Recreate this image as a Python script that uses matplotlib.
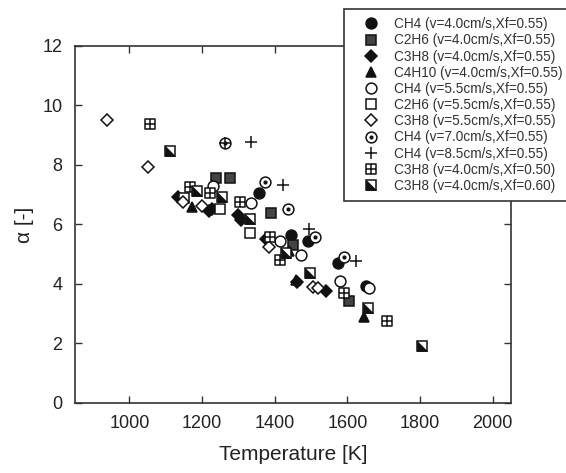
import matplotlib
matplotlib.use('Agg')
import matplotlib.pyplot as plt
from matplotlib.path import Path
from matplotlib.legend_handler import HandlerTuple

plt.rcParams['font.family'] = ['Liberation Sans', 'DejaVu Sans']

# data: (temperature [K], alpha [-])
ch4_40_T = [1357, 1445, 1491, 1573, 1651]
ch4_40_a = [7.07, 5.64, 5.46, 4.72, 3.92]
c2h6_40_T = [1239, 1278, 1390, 1449, 1605]
c2h6_40_a = [7.56, 7.56, 6.40, 5.30, 3.44]
c3h8_40_T = [1133, 1219, 1228, 1298, 1306, 1375, 1462, 1540]
c3h8_40_a = [6.91, 6.44, 6.52, 6.31, 6.15, 5.50, 4.07, 3.75]
c4h10_40_T = [1171, 1440, 1458, 1645]
c4h10_40_a = [6.58, 5.10, 4.13, 2.88]
ch4_55_T = [1230, 1335, 1414, 1471, 1579, 1660]
ch4_55_a = [7.29, 6.71, 5.46, 4.96, 4.11, 3.85]
c2h6_55_T = [1150, 1250, 1331]
c2h6_55_a = [6.89, 6.53, 5.72]
c3h8_55_T = [939, 1052, 1148, 1199, 1383, 1505, 1518]
c3h8_55_a = [9.51, 7.94, 6.75, 6.62, 5.23, 3.89, 3.85]
ch4_70_T = [1264, 1372, 1436, 1511, 1590]
ch4_70_a = [8.75, 7.43, 6.51, 5.57, 4.92]
ch4_85_T = [1264, 1335, 1423, 1495, 1623]
ch4_85_a = [8.75, 8.78, 7.34, 5.84, 4.76]
c3h8_x50_T = [1056, 1168, 1221, 1305, 1388, 1414, 1592, 1709]
c3h8_x50_a = [9.38, 7.27, 7.07, 6.76, 5.57, 4.80, 3.69, 2.75]
c3h8_x60_T = [1111, 1186, 1256, 1331, 1430, 1498, 1656, 1806]
c3h8_x60_a = [8.46, 7.14, 6.93, 6.17, 5.03, 4.38, 3.19, 1.92]

labels = [
    'CH4 (v=4.0cm/s,Xf=0.55)',
    'C2H6 (v=4.0cm/s,Xf=0.55)',
    'C3H8 (v=4.0cm/s,Xf=0.55)',
    'C4H10 (v=4.0cm/s,Xf=0.55)',
    'CH4 (v=5.5cm/s,Xf=0.55)',
    'C2H6 (v=5.5cm/s,Xf=0.55)',
    'C3H8 (v=5.5cm/s,Xf=0.55)',
    'CH4 (v=7.0cm/s,Xf=0.55)',
    'CH4 (v=8.5cm/s,Xf=0.55)',
    'C3H8 (v=4.0cm/s,Xf=0.50)',
    'C3H8 (v=4.0cm/s,Xf=0.60)',
]

# custom markers
crossed_sq = Path([(-1, -1), (1, -1), (1, 1), (-1, 1), (-1, -1),
                   (0, -1), (0, 1), (-1, 0), (1, 0)],
                  [Path.MOVETO, Path.LINETO, Path.LINETO, Path.LINETO, Path.CLOSEPOLY,
                   Path.MOVETO, Path.LINETO, Path.MOVETO, Path.LINETO])
half_tri = Path([(-1, 1), (-1, -1), (1, -1), (-1, 1)],
                [Path.MOVETO, Path.LINETO, Path.LINETO, Path.CLOSEPOLY])

k = '#111111'
fig = plt.figure(figsize=(5.66, 4.73), dpi=100)
ax = fig.add_axes([0.1325, 0.148, 0.77, 0.755])

ms = 7.8
mew = 1.1
h = []
h.append(ax.plot(ch4_40_T, ch4_40_a, 'o', ms=ms, mfc=k, mec=k, mew=mew)[0])
h.append(ax.plot(c2h6_40_T, c2h6_40_a, 's', ms=ms, mfc='#444444', mec=k, mew=mew)[0])
h.append(ax.plot(c3h8_40_T, c3h8_40_a, 'D', ms=ms - 1.5, mfc=k, mec=k, mew=mew)[0])
h.append(ax.plot(c4h10_40_T, c4h10_40_a, '^', ms=ms - 0.5, mfc=k, mec=k, mew=mew)[0])
h.append(ax.plot(ch4_55_T, ch4_55_a, 'o', ms=ms, mfc='white', mec=k, mew=mew)[0])
h.append(ax.plot(c2h6_55_T, c2h6_55_a, 's', ms=ms, mfc='white', mec=k, mew=mew)[0])
h.append(ax.plot(c3h8_55_T, c3h8_55_a, 'D', ms=ms - 1.5, mfc='white', mec=k, mew=mew)[0])
o70 = ax.plot(ch4_70_T, ch4_70_a, 'o', ms=ms, mfc='white', mec=k, mew=mew)[0]
d70 = ax.plot(ch4_70_T, ch4_70_a, 'o', ms=2, mfc=k, mec=k)[0]
h.append((o70, d70))
h.append(ax.plot(ch4_85_T, ch4_85_a, '+', ms=ms + 1.5, mec=k, mew=mew)[0])
h.append(ax.plot(c3h8_x50_T, c3h8_x50_a, marker=crossed_sq, ls='none', ms=ms,
                 mfc='white', mec=k, mew=mew)[0])
sq60 = ax.plot(c3h8_x60_T, c3h8_x60_a, 's', ms=ms, mfc='white', mec=k, mew=mew)[0]
tr60 = ax.plot(c3h8_x60_T, c3h8_x60_a, marker=half_tri, ls='none', ms=ms,
               mfc=k, mec=k, mew=0.5)[0]
h.append((sq60, tr60))

ax.set_xlim(850, 2050)
ax.set_ylim(0, 12)
ax.set_xticks([1000, 1200, 1400, 1600, 1800, 2000])
ax.set_yticks([0, 2, 4, 6, 8, 10, 12])
ax.tick_params(direction='in', length=5, width=1, top=True, right=True,
               labelsize=13, labelcolor='#222222', color='#333333', pad=9)
for s in ax.spines.values():
    s.set_linewidth(1.2)
    s.set_color('#333333')
ax.set_xlabel('Temperature [K]', fontsize=15, color='#222222', labelpad=9)
ax.set_ylabel('\u03b1 [-]', fontsize=15, color='#222222', labelpad=6)

leg = fig.legend(h, labels, loc='upper left', bbox_to_anchor=(0.608, 0.981),
                 handler_map={tuple: HandlerTuple(ndivide=1, pad=0)},
                 fontsize=9.8, frameon=True, fancybox=False, edgecolor='#333333',
                 framealpha=1, labelspacing=0.16, handlelength=2.8, handletextpad=0.3,
                 borderpad=0.6, borderaxespad=0)
leg.get_frame().set_linewidth(1.2)
leg.set_zorder(10)
for t in leg.get_texts():
    t.set_color('#333333')

fig.savefig('out.png', dpi=100)
